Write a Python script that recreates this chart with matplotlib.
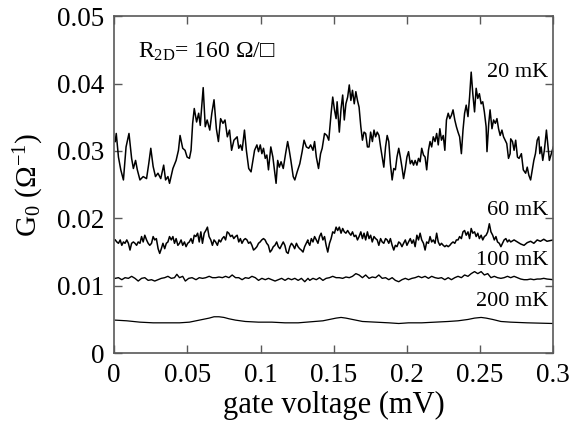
import matplotlib
matplotlib.use("Agg")
import matplotlib.pyplot as plt
from matplotlib.ticker import FuncFormatter

plt.rcParams["font.family"] = ["Liberation Serif", "DejaVu Serif"]
plt.rcParams["mathtext.default"] = "regular"

# gate voltage (mV) / conductance G0 (1/Ohm)
v_20mK = [
    0.0007, 0.0014, 0.0029, 0.0045, 0.0063, 0.0081, 0.0101, 0.0119, 0.0131, 0.0146,
    0.0158, 0.0176, 0.0198, 0.0221, 0.0236, 0.0250, 0.0266, 0.0282, 0.0299, 0.0318,
    0.0338, 0.0351, 0.0367, 0.0378, 0.0401, 0.0423, 0.0439, 0.0450, 0.0468, 0.0484,
    0.0498, 0.0514, 0.0525, 0.0536, 0.0547, 0.0563, 0.0577, 0.0588, 0.0599, 0.0608,
    0.0622, 0.0635, 0.0653, 0.0667, 0.0682, 0.0698, 0.0712, 0.0727, 0.0743, 0.0757,
    0.0773, 0.0788, 0.0802, 0.0818, 0.0840,
    0.0851, 0.0863, 0.0874, 0.0890, 0.0903, 0.0919, 0.0935, 0.0948, 0.0959, 0.0975,
    0.0986, 0.0998, 0.1009, 0.1020, 0.1032, 0.1043, 0.1054, 0.1070, 0.1084, 0.1095,
    0.1106, 0.1117, 0.1128, 0.1140, 0.1155, 0.1171, 0.1185, 0.1196, 0.1207, 0.1223,
    0.1234, 0.1250, 0.1268, 0.1284, 0.1297, 0.1313, 0.1329, 0.1342, 0.1358, 0.1369,
    0.1381, 0.1396, 0.1410, 0.1421, 0.1437, 0.1453, 0.1466, 0.1482, 0.1493, 0.1505,
    0.1516, 0.1523, 0.1538, 0.1550, 0.1561, 0.1572, 0.1583, 0.1595, 0.1606, 0.1617,
    0.1628, 0.1640, 0.1651, 0.1662, 0.1673, 0.1685, 0.1696, 0.1707, 0.1718, 0.1730,
    0.1741, 0.1752,
    0.1764, 0.1775, 0.1786, 0.1797, 0.1809, 0.1820, 0.1831, 0.1842, 0.1854, 0.1865,
    0.1876, 0.1887, 0.1899, 0.1910, 0.1921, 0.1932, 0.1944, 0.1955, 0.1966, 0.1977,
    0.1989, 0.2000, 0.2011, 0.2023, 0.2034, 0.2045, 0.2056, 0.2068, 0.2079, 0.2090,
    0.2101, 0.2113, 0.2124, 0.2135, 0.2147, 0.2158, 0.2169, 0.2180, 0.2192, 0.2203,
    0.2214, 0.2225, 0.2236, 0.2248, 0.2259, 0.2270, 0.2282, 0.2293, 0.2304, 0.2315,
    0.2327, 0.2338, 0.2349, 0.2360, 0.2372, 0.2383, 0.2394, 0.2405, 0.2417, 0.2428,
    0.2439, 0.2450, 0.2462, 0.2473, 0.2484, 0.2495, 0.2507, 0.2518, 0.2529, 0.2541,
    0.2547, 0.2559, 0.2568, 0.2581, 0.2592, 0.2604, 0.2615, 0.2626, 0.2637, 0.2649,
    0.2660, 0.2671, 0.2682, 0.2694, 0.2705,
    0.2709, 0.2721, 0.2732, 0.2743, 0.2755, 0.2766, 0.2782, 0.2795, 0.2811, 0.2822,
    0.2833, 0.2845, 0.2856, 0.2867, 0.2878, 0.2890, 0.2901, 0.2908, 0.2917, 0.2928,
    0.2939, 0.2953, 0.2962, 0.2973, 0.3000,
]
g_20mK = [
    0.0314, 0.0326, 0.0291, 0.0272, 0.0257, 0.0306, 0.0326, 0.0289, 0.0274, 0.0286,
    0.0272, 0.0257, 0.0262, 0.0259, 0.0281, 0.0304, 0.0277, 0.0262, 0.0267, 0.0259,
    0.0279, 0.0257, 0.0262, 0.0252, 0.0274, 0.0286, 0.0301, 0.0323, 0.0304, 0.0301,
    0.0291, 0.0289, 0.0301, 0.0341, 0.0363, 0.0343, 0.0356, 0.0338, 0.0370, 0.0394,
    0.0336, 0.0346, 0.0331, 0.0356, 0.0376, 0.0333, 0.0314, 0.0348, 0.0341, 0.0346,
    0.0321, 0.0331, 0.0301, 0.0316, 0.0321,
    0.0304, 0.0309, 0.0301, 0.0331, 0.0301, 0.0274, 0.0269, 0.0286, 0.0301, 0.0309,
    0.0299, 0.0309, 0.0296, 0.0304, 0.0289, 0.0294, 0.0272, 0.0306, 0.0291, 0.0272,
    0.0252, 0.0286, 0.0276, 0.0284, 0.0274, 0.0296, 0.0314, 0.0301, 0.0286, 0.0262,
    0.0257, 0.0269, 0.0281, 0.0299, 0.0316, 0.0306, 0.0304, 0.0309, 0.0301, 0.0314,
    0.0291, 0.0274, 0.0296, 0.0304, 0.0326, 0.0323, 0.0316, 0.0356, 0.0380, 0.0361,
    0.0348, 0.0373, 0.0328, 0.0363, 0.0383, 0.0346, 0.0370, 0.0380, 0.0398, 0.0375,
    0.0390, 0.0370, 0.0388, 0.0375, 0.0365, 0.0336, 0.0316, 0.0328, 0.0326, 0.0306,
    0.0306, 0.0328,
    0.0314, 0.0331, 0.0321, 0.0328, 0.0323, 0.0306, 0.0291, 0.0276, 0.0306, 0.0323,
    0.0314, 0.0281, 0.0257, 0.0274, 0.0272, 0.0291, 0.0304, 0.0291, 0.0276, 0.0259,
    0.0274, 0.0291, 0.0299, 0.0281, 0.0286, 0.0279, 0.0286, 0.0279, 0.0289, 0.0284,
    0.0304, 0.0294, 0.0291, 0.0272, 0.0301, 0.0314, 0.0306, 0.0321, 0.0314, 0.0326,
    0.0309, 0.0333, 0.0316, 0.0323, 0.0301, 0.0346, 0.0356, 0.0348, 0.0353, 0.0361,
    0.0346, 0.0336, 0.0328, 0.0321, 0.0296, 0.0331, 0.0356, 0.0368, 0.0351, 0.0380,
    0.0417, 0.0385, 0.0358, 0.0393, 0.0378, 0.0385, 0.0370, 0.0373, 0.0358, 0.0336,
    0.0299, 0.0341, 0.0361, 0.0333, 0.0346, 0.0341, 0.0348, 0.0333, 0.0323, 0.0331,
    0.0321, 0.0316, 0.0311, 0.0289, 0.0296,
    0.0318, 0.0314, 0.0301, 0.0316, 0.0291, 0.0289, 0.0296, 0.0272, 0.0267, 0.0276,
    0.0264, 0.0257, 0.0272, 0.0286, 0.0296, 0.0316, 0.0321, 0.0296, 0.0306, 0.0286,
    0.0301, 0.0331, 0.0311, 0.0286, 0.0306,
]

v_60mK = [
    0.0007, 0.0018, 0.0029, 0.0041, 0.0052, 0.0063, 0.0074, 0.0086, 0.0097, 0.0108,
    0.0119, 0.0131, 0.0142, 0.0153, 0.0164, 0.0176, 0.0187, 0.0198, 0.0209, 0.0221,
    0.0232, 0.0243, 0.0255, 0.0266, 0.0277, 0.0288, 0.0300, 0.0311, 0.0322, 0.0333,
    0.0345, 0.0356, 0.0367, 0.0378, 0.0390, 0.0401, 0.0412, 0.0423, 0.0435, 0.0446,
    0.0457, 0.0468, 0.0480, 0.0491, 0.0502, 0.0513, 0.0525, 0.0536, 0.0547, 0.0558,
    0.0570, 0.0581, 0.0592, 0.0603, 0.0615, 0.0626, 0.0637, 0.0648, 0.0660, 0.0671,
    0.0682, 0.0693, 0.0705, 0.0716, 0.0727, 0.0738, 0.0750, 0.0761, 0.0772, 0.0783,
    0.0795, 0.0806, 0.0817, 0.0828, 0.0840, 0.0851, 0.0862, 0.0873, 0.0885, 0.0896,
    0.0907, 0.0918, 0.0930, 0.0941, 0.0952, 0.0963, 0.0975, 0.0986, 0.0997, 0.1008,
    0.1020, 0.1031, 0.1042, 0.1053, 0.1065, 0.1076, 0.1087, 0.1098, 0.1110, 0.1121,
    0.1132, 0.1143, 0.1155, 0.1166, 0.1177, 0.1188, 0.1200, 0.1211, 0.1222, 0.1233,
    0.1245, 0.1256, 0.1267, 0.1278, 0.1290, 0.1301, 0.1312, 0.1323,
    0.1324, 0.1336, 0.1347, 0.1358, 0.1369, 0.1381, 0.1392, 0.1403, 0.1414, 0.1426,
    0.1437, 0.1448, 0.1459, 0.1471, 0.1482, 0.1493, 0.1505, 0.1516, 0.1527, 0.1538,
    0.1550, 0.1561, 0.1572, 0.1583, 0.1595, 0.1606, 0.1617, 0.1628, 0.1640, 0.1651,
    0.1662, 0.1673, 0.1685, 0.1696, 0.1707, 0.1718, 0.1730, 0.1741, 0.1752, 0.1763,
    0.1775, 0.1786, 0.1797, 0.1808, 0.1820, 0.1831, 0.1842, 0.1854, 0.1865, 0.1876,
    0.1887, 0.1899, 0.1910, 0.1921, 0.1932, 0.1944, 0.1955, 0.1966, 0.1977, 0.1989,
    0.2000, 0.2011, 0.2023, 0.2034, 0.2045, 0.2056, 0.2068, 0.2079, 0.2090, 0.2101,
    0.2113, 0.2124, 0.2135, 0.2147, 0.2158, 0.2169, 0.2180, 0.2192, 0.2203, 0.2214,
    0.2225, 0.2236, 0.2248, 0.2259, 0.2270, 0.2282, 0.2293, 0.2304, 0.2315, 0.2327,
    0.2338, 0.2349, 0.2360, 0.2372, 0.2383, 0.2394, 0.2405, 0.2417, 0.2428, 0.2439,
    0.2450, 0.2462, 0.2473, 0.2484, 0.2495, 0.2507, 0.2518, 0.2529, 0.2541, 0.2552,
    0.2563, 0.2574, 0.2586, 0.2597, 0.2608, 0.2619, 0.2631, 0.2642, 0.2653, 0.2664,
    0.2676, 0.2687, 0.2698,
    0.2709, 0.2732, 0.2755, 0.2777, 0.2800, 0.2822, 0.2845, 0.2867, 0.2890, 0.2912,
    0.2935, 0.2957, 0.3000,
]
g_60mK = [
    0.0168, 0.0165, 0.0163, 0.0168, 0.0160, 0.0165, 0.0163, 0.0168, 0.0163, 0.0153,
    0.0163, 0.0165, 0.0163, 0.0160, 0.0165, 0.0163, 0.0173, 0.0165, 0.0175, 0.0168,
    0.0163, 0.0160, 0.0163, 0.0173, 0.0168, 0.0170, 0.0155, 0.0148, 0.0155, 0.0163,
    0.0155, 0.0163, 0.0165, 0.0173, 0.0168, 0.0173, 0.0163, 0.0170, 0.0160, 0.0163,
    0.0168, 0.0160, 0.0165, 0.0158, 0.0163, 0.0165, 0.0170, 0.0163, 0.0175, 0.0173,
    0.0178, 0.0165, 0.0180, 0.0163, 0.0178, 0.0182, 0.0187, 0.0173, 0.0168, 0.0160,
    0.0168, 0.0165, 0.0160, 0.0168, 0.0165, 0.0170, 0.0173, 0.0168, 0.0180, 0.0178,
    0.0173, 0.0175, 0.0170, 0.0173, 0.0175, 0.0165, 0.0170, 0.0163, 0.0168, 0.0170,
    0.0168, 0.0163, 0.0165, 0.0160, 0.0153, 0.0155, 0.0158, 0.0163, 0.0165, 0.0168,
    0.0170, 0.0168, 0.0163, 0.0160, 0.0150, 0.0153, 0.0158, 0.0160, 0.0165, 0.0158,
    0.0155, 0.0160, 0.0165, 0.0160, 0.0150, 0.0148, 0.0158, 0.0163, 0.0160, 0.0155,
    0.0163, 0.0158, 0.0155, 0.0153, 0.0150, 0.0158, 0.0163, 0.0168,
    0.0165, 0.0160, 0.0170, 0.0165, 0.0173, 0.0168, 0.0163, 0.0173, 0.0178, 0.0168,
    0.0173, 0.0160, 0.0150, 0.0163, 0.0170, 0.0180, 0.0178, 0.0187, 0.0182, 0.0187,
    0.0178, 0.0185, 0.0180, 0.0178, 0.0182, 0.0178, 0.0175, 0.0180, 0.0173, 0.0175,
    0.0168, 0.0173, 0.0180, 0.0170, 0.0178, 0.0168, 0.0180, 0.0170, 0.0175, 0.0165,
    0.0173, 0.0170, 0.0168, 0.0160, 0.0170, 0.0165, 0.0163, 0.0170, 0.0168, 0.0163,
    0.0170, 0.0160, 0.0153, 0.0160, 0.0158, 0.0165, 0.0163, 0.0158, 0.0163, 0.0168,
    0.0160, 0.0165, 0.0170, 0.0163, 0.0168, 0.0158, 0.0175, 0.0168, 0.0178, 0.0168,
    0.0163, 0.0153, 0.0165, 0.0163, 0.0173, 0.0165, 0.0168, 0.0163, 0.0178, 0.0165,
    0.0160, 0.0163, 0.0160, 0.0158, 0.0160, 0.0158, 0.0160, 0.0163, 0.0165, 0.0163,
    0.0168, 0.0168, 0.0173, 0.0170, 0.0180, 0.0182, 0.0175, 0.0180, 0.0170, 0.0185,
    0.0178, 0.0180, 0.0173, 0.0178, 0.0170, 0.0175, 0.0168, 0.0173, 0.0175, 0.0180,
    0.0192, 0.0180, 0.0175, 0.0168, 0.0173, 0.0165, 0.0163, 0.0158, 0.0163, 0.0168,
    0.0170, 0.0165, 0.0168,
    0.0165, 0.0168, 0.0165, 0.0162, 0.0160, 0.0164, 0.0166, 0.0163, 0.0168, 0.0166,
    0.0169, 0.0166, 0.0168,
]

v_100mK = [
    0.0007, 0.0029, 0.0052, 0.0074, 0.0097, 0.0119, 0.0142, 0.0164, 0.0187, 0.0209,
    0.0232, 0.0255, 0.0277, 0.0300, 0.0322, 0.0345, 0.0367, 0.0390, 0.0412, 0.0428,
    0.0446, 0.0468, 0.0486, 0.0509, 0.0532, 0.0559, 0.0581, 0.0604, 0.0626, 0.0649,
    0.0671, 0.0694, 0.0716, 0.0739, 0.0761, 0.0784, 0.0806, 0.0829, 0.0851, 0.0874,
    0.0896, 0.0919, 0.0941, 0.0964, 0.0986, 0.1009, 0.1032, 0.1054, 0.1077, 0.1099,
    0.1122, 0.1144, 0.1167, 0.1189, 0.1212, 0.1234, 0.1257, 0.1279, 0.1302, 0.1324,
    0.1336, 0.1358, 0.1381, 0.1403, 0.1426, 0.1448, 0.1471, 0.1493, 0.1516, 0.1538,
    0.1561, 0.1583, 0.1606, 0.1628, 0.1651, 0.1673, 0.1696, 0.1718, 0.1741, 0.1763,
    0.1786, 0.1808, 0.1831, 0.1854, 0.1876, 0.1899, 0.1921, 0.1944, 0.1966, 0.1989,
    0.2011, 0.2034, 0.2056, 0.2079, 0.2101, 0.2124, 0.2147, 0.2169, 0.2192, 0.2214,
    0.2236, 0.2259, 0.2282, 0.2304, 0.2327, 0.2349, 0.2372, 0.2394, 0.2417, 0.2439,
    0.2462, 0.2484, 0.2507, 0.2529, 0.2552, 0.2574, 0.2597, 0.2619, 0.2642, 0.2664,
    0.2687, 0.2709,
    0.2732, 0.2755, 0.2777, 0.2800, 0.2822, 0.2845, 0.2867, 0.2890, 0.2912, 0.2935,
    0.2957, 0.3000,
]
g_100mK = [
    0.0111, 0.0112, 0.0109, 0.0112, 0.0111, 0.0114, 0.0111, 0.0107, 0.0111, 0.0112,
    0.0108, 0.0109, 0.0107, 0.0109, 0.0111, 0.0112, 0.0114, 0.0111, 0.0112, 0.0117,
    0.0112, 0.0114, 0.0107, 0.0111, 0.0112, 0.0109, 0.0112, 0.0111, 0.0112, 0.0114,
    0.0112, 0.0112, 0.0113, 0.0112, 0.0114, 0.0112, 0.0116, 0.0112, 0.0112, 0.0109,
    0.0112, 0.0111, 0.0114, 0.0112, 0.0108, 0.0111, 0.0109, 0.0111, 0.0109, 0.0107,
    0.0109, 0.0111, 0.0108, 0.0111, 0.0109, 0.0111, 0.0108, 0.0111, 0.0106, 0.0111,
    0.0108, 0.0111, 0.0109, 0.0112, 0.0108, 0.0111, 0.0112, 0.0114, 0.0112, 0.0112,
    0.0111, 0.0113, 0.0112, 0.0114, 0.0118, 0.0116, 0.0112, 0.0116, 0.0111, 0.0113,
    0.0112, 0.0116, 0.0111, 0.0112, 0.0109, 0.0112, 0.0108, 0.0106, 0.0109, 0.0111,
    0.0109, 0.0111, 0.0112, 0.0114, 0.0112, 0.0114, 0.0111, 0.0114, 0.0112, 0.0111,
    0.0112, 0.0109, 0.0112, 0.0109, 0.0112, 0.0114, 0.0112, 0.0116, 0.0114, 0.0118,
    0.0121, 0.0118, 0.0121, 0.0116, 0.0118, 0.0112, 0.0114, 0.0112, 0.0111, 0.0112,
    0.0114, 0.0112,
    0.0114, 0.0112, 0.0110, 0.0109, 0.0109, 0.0110, 0.0109, 0.0110, 0.0110, 0.0111,
    0.0110, 0.0109,
]

v_200mK = [
    0.0007, 0.0086, 0.0176, 0.0266, 0.0356, 0.0446, 0.0514, 0.0559, 0.0604, 0.0649,
    0.0682, 0.0716, 0.0750, 0.0784, 0.0829, 0.0896, 0.0986, 0.1077, 0.1167, 0.1257,
    0.1426, 0.1471, 0.1516, 0.1550, 0.1583, 0.1628, 0.1696, 0.1786, 0.1876, 0.1944,
    0.2011, 0.2101, 0.2192, 0.2282, 0.2349, 0.2417, 0.2462, 0.2507, 0.2541, 0.2586,
    0.2642, 0.2709, 0.2822, 0.3000,
]
g_200mK = [
    0.0049, 0.0048, 0.0046, 0.0045, 0.0045, 0.0045, 0.0046, 0.0048, 0.0050, 0.0052,
    0.0054, 0.0054, 0.0053, 0.0051, 0.0049, 0.0047, 0.0046, 0.0046, 0.0045, 0.0045,
    0.0048, 0.0050, 0.0052, 0.0053, 0.0052, 0.0050, 0.0047, 0.0046, 0.0045, 0.0044,
    0.0045, 0.0045, 0.0046, 0.0047, 0.0048, 0.0050, 0.0052, 0.0053, 0.0052, 0.0050,
    0.0047, 0.0046, 0.0045, 0.0044,
]

labels = ["20 mK", "60 mK", "100 mK", "200 mK"]
label_y = [0.0417, 0.0211, 0.0137, 0.0076]
x_ticks = [0, 0.05, 0.1, 0.15, 0.2, 0.25, 0.3]
y_ticks = [0, 0.01, 0.02, 0.03, 0.04, 0.05]

fig = plt.figure(figsize=(5.71, 4.26), dpi=100)
ax = fig.add_axes([0.2, 0.171, 0.769, 0.791])

ax.plot(v_20mK, g_20mK, color="black", lw=1.1)
ax.plot(v_60mK, g_60mK, color="black", lw=1.1)
ax.plot(v_100mK, g_100mK, color="black", lw=1.0)
ax.plot(v_200mK, g_200mK, color="black", lw=0.9)

for lab, yy in zip(labels, label_y):
    ax.text(0.2965, yy, lab, ha="right", va="center", fontsize=16)

ax.text(0.016, 0.0447, "$R_{2D}$= 160 Ω/□", ha="left", va="center", fontsize=17)

ax.set_xlim(0, 0.3)
ax.set_ylim(0, 0.05)
ax.set_xticks(x_ticks)
ax.set_yticks(y_ticks)
fmt = FuncFormatter(lambda v, p: f"{v:g}")
ax.xaxis.set_major_formatter(fmt)
ax.yaxis.set_major_formatter(fmt)
ax.tick_params(direction="in", top=True, right=True, length=6, width=1.0,
               color="0.35", labelsize=19.5, pad=7)
for s in ax.spines.values():
    s.set_color("0.35")
    s.set_linewidth(1.2)

ax.set_xlabel("gate voltage (mV)", fontsize=22, labelpad=2)
ax.set_ylabel("$G_0$ (Ω$^{-1}$)", fontsize=21, labelpad=8)

fig.savefig("out.png", dpi=100)
